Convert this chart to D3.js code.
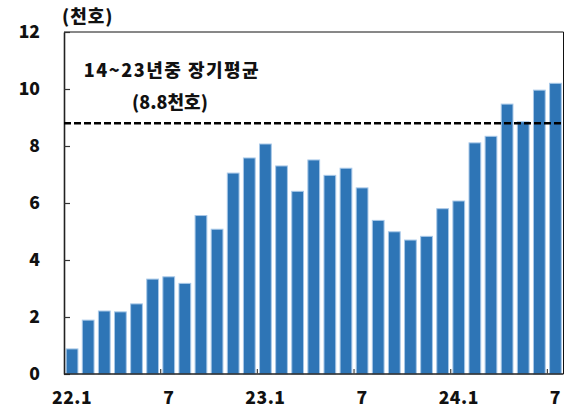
<!DOCTYPE html>
<head>
<meta charset="utf-8">
<style>
    body { margin: 0; background: #fff; }
    text { font-family: "Noto Sans CJK KR", "Noto Sans", sans-serif; font-weight: 900; fill: #111; }
</style>
</head>
<body>
<script src="https://d3js.org/d3.v7.min.js"></script>
<script>

// data
const months = ['22.1','2','3','4','5','6','7','8','9','10','11','12',
                '23.1','2','3','4','5','6','7','8','9','10','11','12',
                '24.1','2','3','4','5','6','7'];
const shownLabels = ['22.1','7','23.1','7','24.1','7'];
const values = [0.88, 1.89, 2.21, 2.18, 2.46, 3.33, 3.41, 3.18, 5.56, 5.08, 7.05, 7.58,
                 8.07, 7.30, 6.41, 7.51, 6.97, 7.22, 6.53, 5.39, 4.99, 4.70, 4.83, 5.80,
                 6.07, 8.11, 8.34, 9.47, 8.85, 9.96, 10.20];
const yTicks = [0, 2, 4, 6, 8, 10, 12];
const average = 8.8;
const unitLabel = '(천호)';
const noteLines = ['14~23년중 장기평균', '(8.8천호)'];

// setup
const W = 564, H = 410;
const pLeft = 64, pRight = 563.5, pTop = 32, pBottom = 374;

const svg = d3.select('body').append('svg')
    .attr('width', W)
    .attr('height', H);

const x = d3.scaleBand()
    .domain(d3.range(months.length))
    .range([pLeft, pRight])
    .paddingInner(0.27)
    .paddingOuter(0.135);

const y = d3.scaleLinear().domain([0, 12]).range([pBottom, pTop]);

// bars
svg.append('g').selectAll('rect').data(values)
    .enter().append('rect')
        .attr('x', (d, i) => x(i))
        .attr('y', d => y(d))
        .attr('width', x.bandwidth())
        .attr('height', d => y(0) - y(d))
        .attr('fill', '#2e75b6')
        .attr('stroke', '#a8c8e8')
        .attr('stroke-width', 1);

// frame
svg.append('line').attr('x1', pLeft).attr('x2', pRight).attr('y1', pTop).attr('y2', pTop)
    .attr('stroke', '#111').attr('stroke-width', 1);
svg.append('line').attr('x1', pRight).attr('x2', pRight).attr('y1', pTop).attr('y2', pBottom)
    .attr('stroke', '#111').attr('stroke-width', 1);

// y axis
const yAxis = svg.append('g')
    .attr('transform', 'translate(' + pLeft + ',0)')
    .call(d3.axisLeft(y).tickValues(yTicks).tickSize(-6).tickPadding(24).tickSizeOuter(0));
yAxis.select('.domain').attr('stroke', '#222').attr('stroke-width', 1.6);
yAxis.selectAll('.tick line').attr('stroke', '#333').attr('stroke-width', 1.2);
yAxis.selectAll('.tick text')
    .attr('font-size', 17.5)
    .attr('font-family', '"Noto Sans CJK KR", sans-serif')
    .attr('font-weight', 900)
    .attr('fill', '#111')
    .attr('x', -24);

// x axis
const step = x.step();
const xAxis = svg.append('g');
xAxis.append('line')
    .attr('x1', pLeft).attr('x2', pRight).attr('y1', pBottom).attr('y2', pBottom)
    .attr('stroke', '#222').attr('stroke-width', 1.6);

let labelIdx = months.map((m, i) => i).filter(i => shownLabels.includes(months[i]) && (i % 6 === 0));
xAxis.selectAll('.xtick').data(labelIdx.filter(i => i > 0))
    .enter().append('line')
        .attr('x1', i => x(i) - step * 0.135)
        .attr('x2', i => x(i) - step * 0.135)
        .attr('y1', pBottom).attr('y2', pBottom - 5)
        .attr('stroke', '#444').attr('stroke-width', 1.2);

xAxis.selectAll('.xlabel').data(labelIdx)
    .enter().append('text')
        .attr('x', i => x(i) + x.bandwidth() / 2)
        .attr('y', 404)
        .attr('text-anchor', 'middle')
        .attr('font-size', 17.5)
        .attr('letter-spacing', 0.5)
        .text(i => months[i]);

// average line
svg.append('line')
    .attr('x1', pLeft).attr('x2', pRight)
    .attr('y1', y(average)).attr('y2', y(average))
    .attr('stroke', '#000').attr('stroke-width', 2.6)
    .attr('stroke-dasharray', '7,3');

// texts
svg.append('text')
    .attr('x', 62).attr('y', 23)
    .attr('font-size', 18)
    .attr('letter-spacing', 1)
    .text(unitLabel);

svg.append('text')
    .attr('x', 172).attr('y', 77)
    .attr('text-anchor', 'middle')
    .attr('font-size', 18)
    .attr('letter-spacing', 1.5)
    .text(noteLines[0]);
svg.append('text')
    .attr('x', 170).attr('y', 109)
    .attr('text-anchor', 'middle')
    .attr('font-size', 18)
    .text(noteLines[1]);

</script>
</body>
